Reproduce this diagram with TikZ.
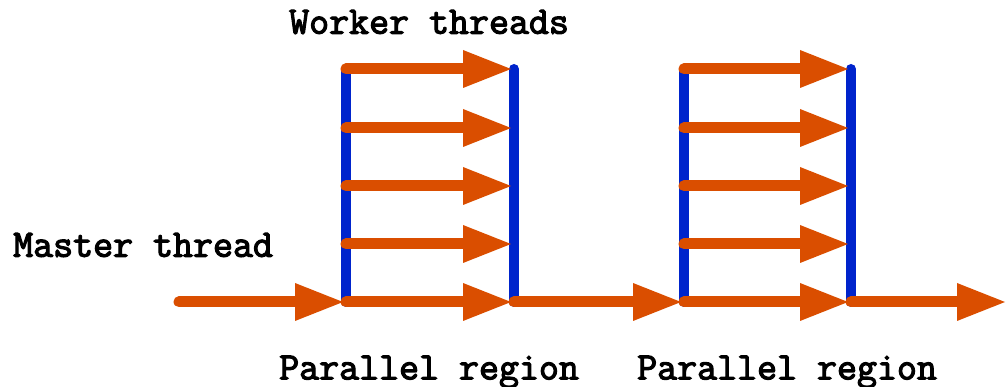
\documentclass[tikz,border=0pt]{standalone}
\usepackage{fontspec}
\setmonofont[AutoFakeBold=3]{Latin Modern Mono}
\usetikzlibrary{arrows.meta}
\definecolor{thorange}{RGB}{218,78,0}
\definecolor{thblue}{RGB}{0,36,204}
\tikzset{
  flow/.style={draw=thorange, line width=11pt, line cap=round,
    -{Triangle[length=48pt,width=38pt,line width=0pt]}},
  bar/.style={draw=thblue, line width=10pt, line cap=round},
  lbl/.style={font=\ttfamily\bfseries\fontsize{38.8}{40}\selectfont, inner sep=0pt, anchor=west}
}
\begin{document}
\begin{tikzpicture}[x=1pt,y=-1pt]
\useasboundingbox (0,0) rectangle (1007,387);
% coordinates
\coordinate (s) at (179,302);
\coordinate (e) at (1005,302);
\foreach \n/\x in {a/346,b/514,c/684,d/851}{
  \coordinate (\n top) at (\x,69);
  \coordinate (\n bot) at (\x,302);
}
% blue bars
\draw[bar] (atop) -- (abot);
\draw[bar] (btop) -- (bbot);
\draw[bar] (ctop) -- (cbot);
\draw[bar] (dtop) -- (dbot);
% master thread
\draw[flow, shorten >=3pt] (s) -- (abot);
\draw[flow, shorten >=3pt] (bbot) -- (cbot);
\draw[flow] (dbot) -- (e);
% worker threads
\foreach \y in {69,128,186,244,302}{
  \coordinate (l\y) at (346,\y);
  \coordinate (r\y) at (514,\y);
  \draw[flow, shorten >=3pt] (l\y) -- (r\y);
  \coordinate (m\y) at (684,\y);
  \coordinate (n\y) at (851,\y);
  \draw[flow, shorten >=3pt] (m\y) -- (n\y);
}
% labels
\node[lbl] (wt) at (289,22) {Worker threads};
\node[lbl] (mt) at (13,245) {Master thread};
\node[lbl] (p1) at (279,372) {Parallel region};
\node[lbl] (p2) at (637,372) {Parallel region};
\end{tikzpicture}
\end{document}
